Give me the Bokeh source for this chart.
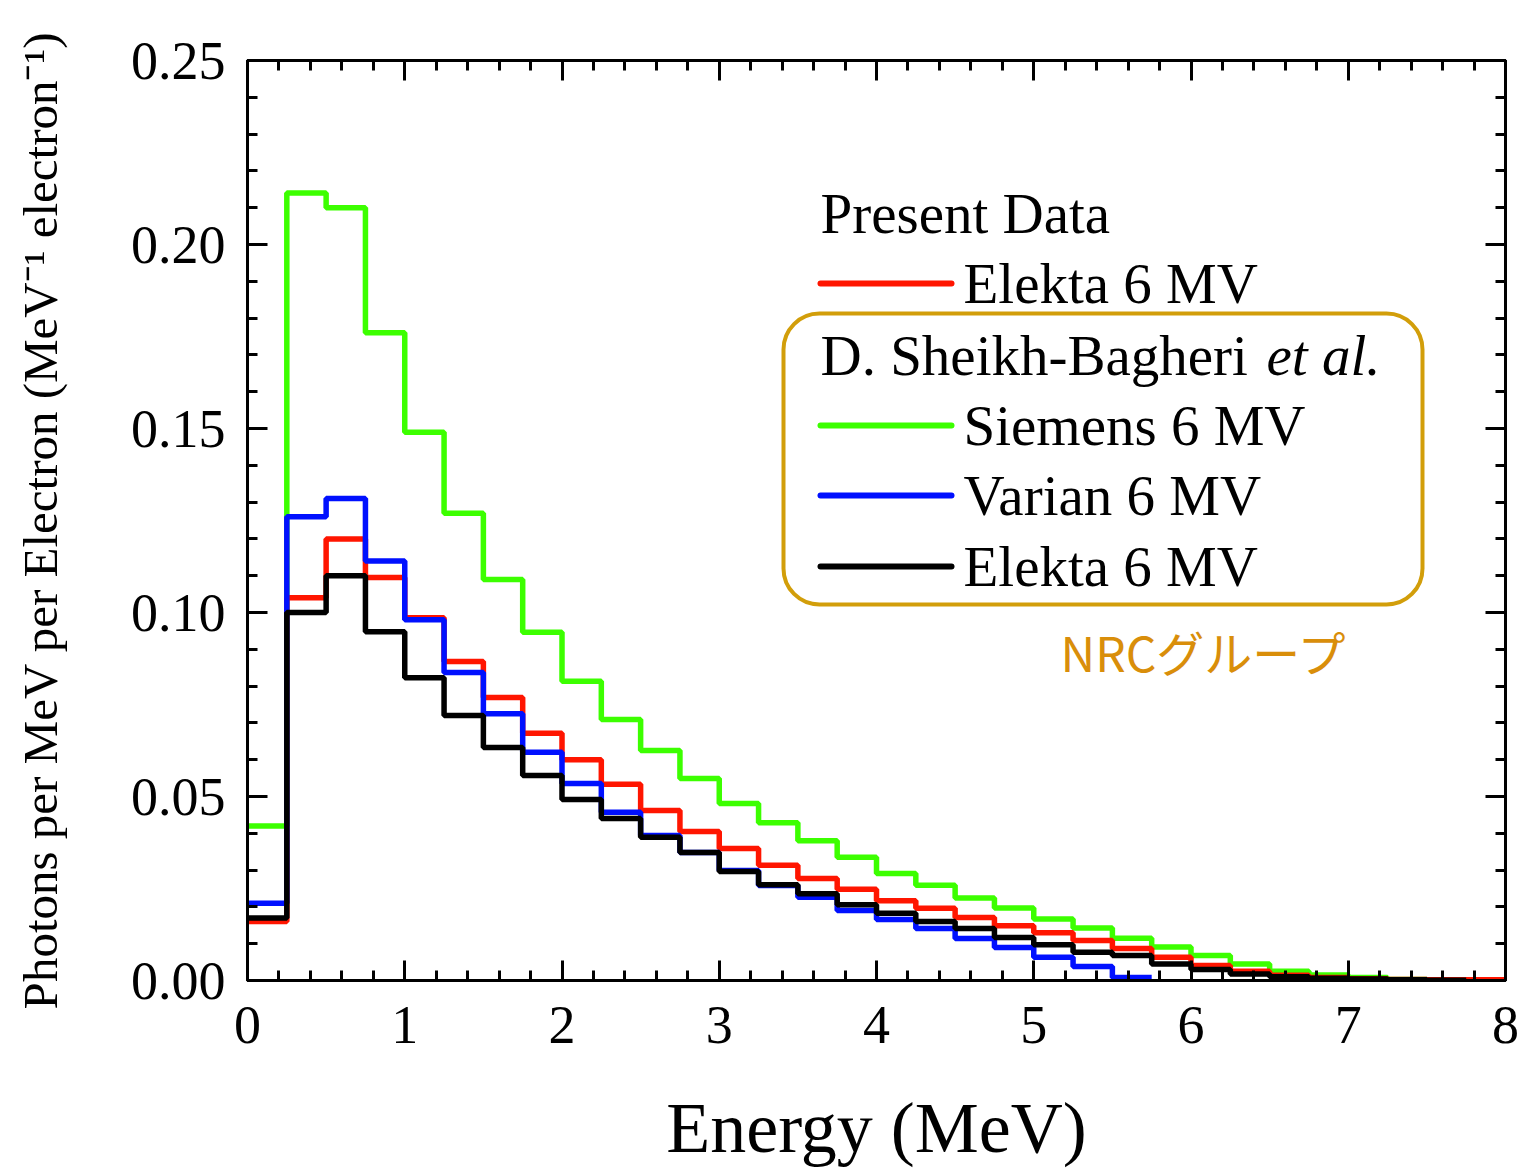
from bokeh.plotting import figure
from bokeh.models import (Range1d, LinearAxis, FixedTicker, PrintfTickFormatter, Label,
                          BoxAnnotation, CustomJSTickFormatter)
from bokeh.embed import file_html
from bokeh.resources import INLINE

# ---------------- data ----------------
bin_width = 0.25  # MeV
present_elekta = [0.016, 0.104, 0.120, 0.1095, 0.0986, 0.0867, 0.0769, 0.0672, 0.060, 0.0533,
                  0.0462, 0.0405, 0.0359, 0.0313, 0.0277, 0.0248, 0.0217, 0.0196, 0.0171, 0.0149,
                  0.013, 0.0109, 0.0087, 0.0063, 0.0041, 0.0025, 0.0014, 0.0008, 0.0005, 0.0003,
                  0.0002, 0.0002]
siemens = [0.042, 0.214, 0.210, 0.176, 0.149, 0.127, 0.109, 0.0946, 0.0813, 0.0709,
           0.0625, 0.0549, 0.0481, 0.0429, 0.038, 0.0335, 0.0291, 0.0259, 0.0224, 0.0197,
           0.0167, 0.0143, 0.0115, 0.0091, 0.0068, 0.0045, 0.0025, 0.0015, 0.0008, 0.0003]
varian = [0.021, 0.126, 0.131, 0.114, 0.098, 0.0837, 0.0725, 0.062, 0.0535, 0.0457,
          0.0394, 0.0348, 0.0299, 0.0258, 0.0226, 0.019, 0.0166, 0.0141, 0.0114, 0.009,
          0.0063, 0.0038, 0.0008]
nrc_elekta = [0.017, 0.100, 0.110, 0.0948, 0.0823, 0.072, 0.0633, 0.0557, 0.0492, 0.044,
              0.0389, 0.0348, 0.0296, 0.026, 0.0236, 0.0206, 0.0183, 0.016, 0.0141, 0.0117,
              0.0097, 0.0077, 0.0068, 0.0045, 0.003, 0.0018, 0.001, 0.0006, 0.0004, 0.0002,
              0.0001]
x_ticks = [0, 1, 2, 3, 4, 5, 6, 7, 8]
y_ticks = [0.00, 0.05, 0.10, 0.15, 0.20, 0.25]

series = [
    ("Siemens 6 MV", siemens, "#3CFF00"),
    ("Present Elekta 6 MV", present_elekta, "#FF1500"),
    ("Varian 6 MV", varian, "#0010FF"),
    ("NRC Elekta 6 MV", nrc_elekta, "#000000"),
]

SERIF = "Liberation Serif"

# ---------------- figure ----------------
p = figure(width=1520, height=1171, x_range=Range1d(0, 8), y_range=Range1d(0, 0.25),
           output_backend="svg", toolbar_location=None,
           min_border_left=247, min_border_right=15, min_border_top=60, min_border_bottom=191)
p.background_fill_color = "white"
p.border_fill_color = "white"
p.grid.visible = False
p.outline_line_color = "black"
p.outline_line_width = 3

xt = FixedTicker(ticks=x_ticks, minor_ticks=[i * 0.2 for i in range(41)])
yt = FixedTicker(ticks=y_ticks, minor_ticks=[i * 0.01 for i in range(26)])


def style_axis(ax):
    ax.axis_line_width = 3
    ax.axis_line_color = "black"
    ax.major_tick_line_width = 3
    ax.minor_tick_line_width = 3
    ax.major_tick_in = 20
    ax.major_tick_out = 0
    ax.minor_tick_in = 10
    ax.minor_tick_out = 0
    ax.major_label_text_font = SERIF
    ax.major_label_text_font_size = "54px"
    ax.major_label_text_color = "black"


xa = p.xaxis[0]
ya = p.yaxis[0]
xa.ticker = xt
ya.ticker = yt
ya.formatter = PrintfTickFormatter(format="%.2f")
style_axis(xa)
style_axis(ya)
xa.major_label_standoff = 26
ya.major_label_standoff = 22

xa.axis_label = "Energy (MeV)"
xa.axis_label_text_font = SERIF
xa.axis_label_text_font_size = "72px"
xa.axis_label_text_font_style = "normal"
xa.axis_label_text_color = "black"
xa.axis_label_standoff = 42

ya.axis_label = "Photons per MeV per Electron (MeV\u207b\u00b9 electron\u207b\u00b9)"
ya.axis_label_text_font = SERIF
ya.axis_label_text_font_size = "49px"
ya.axis_label_text_font_style = "normal"
ya.axis_label_text_color = "black"
ya.axis_label_standoff = 60

blank = CustomJSTickFormatter(code="return ''")
top = LinearAxis(ticker=xt, formatter=blank)
style_axis(top)
top.major_label_standoff = 0
p.add_layout(top, "above")
right = LinearAxis(ticker=yt, formatter=blank)
style_axis(right)
right.major_label_standoff = 0
p.add_layout(right, "right")

# ---------------- histograms ----------------
for name, vals, color in series:
    xs = [i * bin_width for i in range(len(vals) + 1)]
    ys = list(vals) + [vals[-1]]
    p.step(x=xs, y=ys, mode="after", line_color=color, line_width=5.5)

# ---------------- custom legend (positions in screen pixels -> data) ----------------
FRAME_L, FRAME_R, FRAME_T, FRAME_B = 247, 1505, 60, 980


def dx(px):
    return (px - FRAME_L) / (FRAME_R - FRAME_L) * 8


def dy(py):
    return (FRAME_B - py) / (FRAME_B - FRAME_T) * 0.25


gold = "#D29E0A"
p.add_layout(BoxAnnotation(left=dx(783), right=dx(1422), top=dy(313), bottom=dy(604),
                           fill_alpha=0, line_color=gold, line_alpha=1.0, line_width=4,
                           border_radius=36))


def label(px, py, text, size="57px", style="normal", color="black", font=SERIF):
    p.add_layout(Label(x=dx(px), y=dy(py), text=text, text_font=font, text_font_size=size,
                       text_font_style=style, text_color=color, text_baseline="middle",
                       text_align="left"))


label(820, 213, "Present Data")
label(820, 355, "D. Sheikh-Bagheri")
label(1266, 355, "et al.", style="italic")

legend_rows = [(283, "Elekta 6 MV", "#FF1500"),
               (425, "Siemens 6 MV", "#3CFF00"),
               (495, "Varian 6 MV", "#0010FF"),
               (566, "Elekta 6 MV", "#000000")]
for py, text, color in legend_rows:
    p.segment(x0=[dx(820)], y0=[dy(py)], x1=[dx(951)], y1=[dy(py)], line_color=color,
              line_width=6, line_cap="round")
    label(963, py, text)

label(1060, 650, "NRCグループ", size="48px", color="#D98E0A", font="Noto Sans CJK JP")

open("out.html", "w").write(file_html(p, INLINE))
